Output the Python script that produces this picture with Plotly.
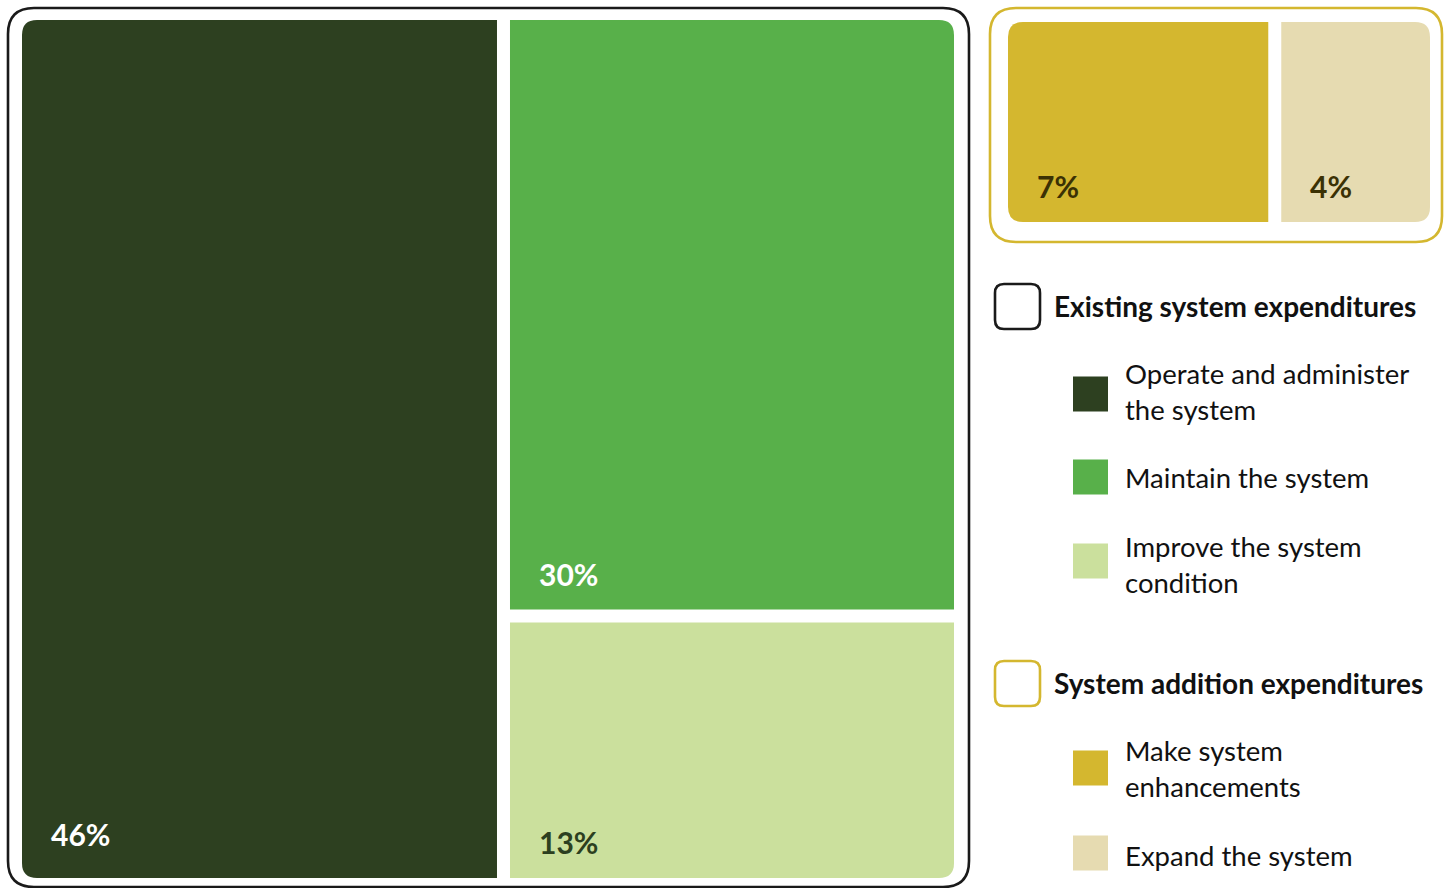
import plotly.graph_objects as go

# ---------------- data ----------------
groups = ["Existing system expenditures", "System addition expenditures"]
group_colors = ["#1a1a1a", "#d4b72f"]
categories = ["Operate and administer<br>the system", "Maintain the system",
              "Improve the system<br>condition", "Make system<br>enhancements",
              "Expand the system"]
category_group = [0, 0, 0, 1, 1]
values = [46, 30, 13, 7, 4]
colors = ["#2d4020", "#58b04a", "#cbe09d", "#d4b72f", "#e6dbb1"]
label_colors = ["#ffffff", "#ffffff", "#2c3f20", "#3b3104", "#3b3104"]
labels = [f"{v}%" for v in values]

W, H = 1449, 888
FONT = "Lato"
GAP = 13

fig = go.Figure()
shapes = []
annotations = []


def rounded_path(x0, y0, x1, y1, r):
    # r: radii for (top-left, top-right, bottom-right, bottom-left); y grows downward
    tl, tr, br, bl = r
    p = f"M {x0+tl},{y0} L {x1-tr},{y0} "
    p += f"Q {x1},{y0} {x1},{y0+tr} " if tr else ""
    p += f"L {x1},{y1-br} "
    p += f"Q {x1},{y1} {x1-br},{y1} " if br else ""
    p += f"L {x0+bl},{y1} "
    p += f"Q {x0},{y1} {x0},{y1-bl} " if bl else ""
    p += f"L {x0},{y0+tl} "
    p += f"Q {x0},{y0} {x0+tl},{y0} " if tl else ""
    return p + "Z"


def add_cell(i, x0, y0, x1, y1, r, lift=36):
    shapes.append(dict(type="path", xref="x", yref="y", path=rounded_path(x0, y0, x1, y1, r),
                       fillcolor=colors[i], line=dict(width=0), layer="below"))
    annotations.append(dict(x=x0 + 27, y=y1 - lift, xref="x", yref="y", text=f"<b>{labels[i]}</b>",
                            showarrow=False, xanchor="left", yanchor="middle",
                            font=dict(family=FONT, size=30, color=label_colors[i])))


# ---------- group frames ----------
frames = [(8, 8, 969, 887), (990, 8, 1442, 242)]
for g, (fx0, fy0, fx1, fy1) in enumerate(frames):
    shapes.append(dict(type="path", xref="x", yref="y",
                       path=rounded_path(fx0, fy0, fx1, fy1, (26, 26, 26, 26)),
                       line=dict(color=group_colors[g], width=2.6), fillcolor="rgba(0,0,0,0)"))

R = 15
# ---------- existing system: slice-and-dice ----------
ex = [i for i in range(len(values)) if category_group[i] == 0]
x0, y0, x1, y1 = 22, 20, 954, 878
tot = sum(values[i] for i in ex)
wfirst = (x1 - x0 - GAP) * values[ex[0]] / tot
add_cell(ex[0], x0, y0, x0 + wfirst, y1, (R, 0, 0, R), lift=44)
rest = ex[1:]
rx0 = x0 + wfirst + GAP
rtot = sum(values[i] for i in rest)
avail = (y1 - y0) - GAP * (len(rest) - 1)
cy = y0
for k, i in enumerate(rest):
    h = avail * values[i] / rtot
    r = (0, R if k == 0 else 0, R if k == len(rest) - 1 else 0, 0)
    add_cell(i, rx0, cy, x1, cy + h, r)
    cy += h + GAP

# ---------- system additions: horizontal split ----------
ad = [i for i in range(len(values)) if category_group[i] == 1]
x0, y0, x1, y1 = 1008, 22, 1430, 222
atot = sum(values[i] for i in ad)
avail = (x1 - x0) - GAP * (len(ad) - 1)
cx = x0
for k, i in enumerate(ad):
    w = avail * values[i] / atot
    r = (R if k == 0 else 0, R if k == len(ad) - 1 else 0, R if k == len(ad) - 1 else 0, R if k == 0 else 0)
    add_cell(i, cx, y0, cx + w, y1, r)
    cx += w + GAP

# ---------- legend ----------
header_y = [306, 683]
item_y = [391, 477, 564, 768, 855]
for g in range(len(groups)):
    yc = header_y[g]
    shapes.append(dict(type="path", xref="x", yref="y",
                       path=rounded_path(995, yc - 22, 1040, yc + 23, (9, 9, 9, 9)),
                       line=dict(color=group_colors[g], width=2.6), fillcolor="rgba(0,0,0,0)"))
    annotations.append(dict(x=1052, y=yc, xref="x", yref="y", text=f"<b>{groups[g]}</b>",
                            showarrow=False, xanchor="left", yanchor="middle",
                            font=dict(family=FONT, size=28, color="#111111")))
box_y = [394, 477, 561, 768, 853]
for i in range(len(categories)):
    yc = box_y[i]
    shapes.append(dict(type="rect", xref="x", yref="y", x0=1073, x1=1108, y0=yc - 17.5, y1=yc + 17.5,
                       fillcolor=colors[i], line=dict(width=0)))
    annotations.append(dict(x=1123, y=item_y[i], xref="x", yref="y", text=categories[i],
                            showarrow=False, xanchor="left", yanchor="middle", align="left",
                            font=dict(family=FONT, size=27.5, color="#111111")))

fig.update_layout(
    width=W, height=H, margin=dict(l=0, r=0, t=0, b=0),
    paper_bgcolor="white", plot_bgcolor="white",
    xaxis=dict(range=[0, W], visible=False, fixedrange=True),
    yaxis=dict(range=[H, 0], visible=False, fixedrange=True),
    shapes=shapes, annotations=annotations, showlegend=False,
)
fig.write_html("out.html")
